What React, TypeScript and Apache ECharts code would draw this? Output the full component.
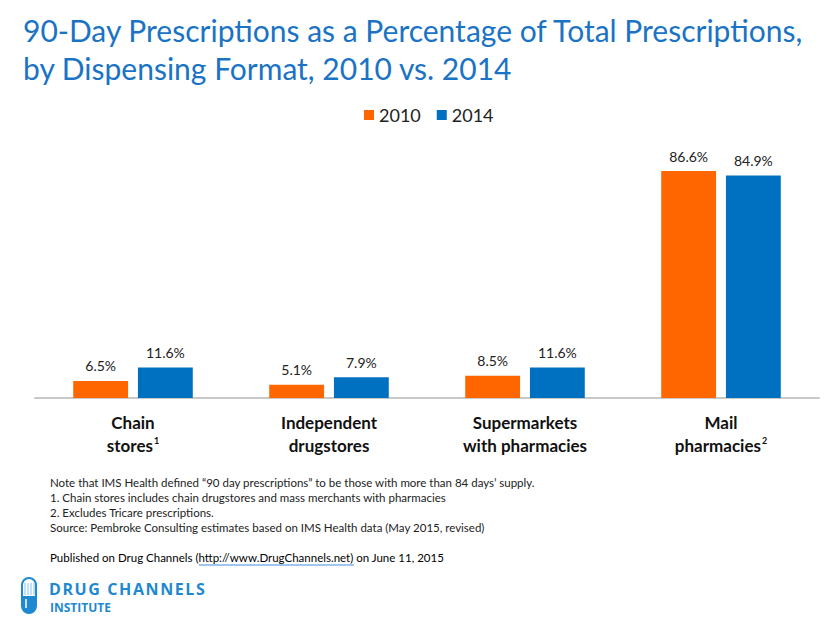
import React, { useEffect, useRef } from "react";
import * as echarts from "echarts";

const categories = ["Chain\nstores{sup|1}", "Independent\ndrugstores", "Supermarkets\nwith pharmacies", "Mail\npharmacies{sup|2}"];
const values2010 = [6.5, 5.1, 8.5, 86.6];
const values2014 = [11.6, 7.9, 11.6, 84.9];
const seriesNames = ["2010", "2014"];
const titleLines = [
  "90-Day Prescriptions as a Percentage of Total Prescriptions,",
  "by Dispensing Format, 2010 vs. 2014",
];
const noteLines = [
  "Note that IMS Health defined \u201c90 day prescriptions\u201d to be those with more than 84 days\u2019 supply.",
  "1. Chain stores includes chain drugstores and mass merchants with pharmacies",
  "2. Excludes Tricare prescriptions.",
  "Source: Pembroke Consulting estimates based on IMS Health data (May 2015, revised)",
];

const FONT = "Lato, 'Open Sans', sans-serif";
const ORANGE = "#FF6600";
const BLUE = "#0070C0";
const LOGO_BLUE = "#1E88D0";

export default function App() {
  const ref = useRef<HTMLDivElement>(null);
  useEffect(() => {
    document.body.style.margin = "0";
    if (!ref.current) return;
    const chart = echarts.init(ref.current, null, { renderer: "svg" });
    const labelCommon = {
      show: true,
      position: "top" as const,
      distance: 8,
      formatter: "{c}%",
      fontFamily: FONT,
      fontSize: 14,
      color: "#222",
    };
    const hs = "\u200A";
    chart.setOption({
      animation: false,
      backgroundColor: "#ffffff",
      title: {
        text: titleLines.join("\n"),
        left: 18,
        top: 6,
        textStyle: {
          fontFamily: FONT,
          fontSize: 30,
          fontWeight: "normal",
          color: "#1A73C4",
          lineHeight: 38,
        },
      },
      legend: {
        top: 101,
        left: 359,
        itemWidth: 10,
        itemHeight: 10,
        itemGap: 16,
        icon: "rect",
        textStyle: { fontFamily: FONT, fontSize: 18, color: "#222" },
        data: seriesNames,
      },
      grid: { left: 35, right: 21, top: 136, bottom: 219 },
      xAxis: {
        type: "category",
        data: categories,
        axisLine: { lineStyle: { color: "#C8C8C8", width: 2 } },
        axisTick: { show: false },
        axisLabel: {
          margin: 13,
          interval: 0,
          fontFamily: FONT,
          fontSize: 17,
          fontWeight: "bold",
          color: "#111",
          lineHeight: 23,
          rich: {
            sup: {
              fontFamily: FONT,
              fontSize: 9,
              color: "#111",
              padding: [0, 0, 10, 1],
            },
          },
        },
      },
      yAxis: { type: "value", min: 0, max: 100, show: false, splitLine: { show: false } },
      series: [
        {
          name: seriesNames[0],
          type: "bar",
          data: values2010,
          barGap: "18%",
          barCategoryGap: "39%",
          itemStyle: { color: ORANGE },
          label: labelCommon,
        },
        {
          name: seriesNames[1],
          type: "bar",
          data: values2014,
          itemStyle: { color: BLUE },
          label: labelCommon,
        },
      ],
      graphic: [
        ...noteLines.map((t, i) => ({
          type: "text",
          left: 50,
          top: 476 + i * 15,
          style: { text: t, fontFamily: FONT, fontSize: 11.5, fill: "#222" },
        })),
        {
          type: "text",
          left: 50,
          top: 551,
          style: {
            text: "{a|Published on Drug Channels (}{l|http://www.DrugChannels.net}{a|) on June 11, 2015}",
            fontFamily: FONT,
            fontSize: 11.5,
            rich: {
              a: { fontFamily: FONT, fontSize: 11.5, color: "#222" },
              l: { fontFamily: FONT, fontSize: 11.5, color: "#3E8EDE" },
            },
          },
        },
        {
          type: "line",
          shape: { x1: 199, y1: 565, x2: 354, y2: 565 },
          style: { stroke: "#3E8EDE", lineWidth: 1 },
        },
        {
          type: "rect",
          shape: { x: 22, y: 578, width: 14, height: 35, r: 7 },
          style: { fill: "#ffffff", stroke: LOGO_BLUE, lineWidth: 2 },
        },
        {
          type: "rect",
          shape: { x: 22, y: 596, width: 14, height: 17, r: [0, 0, 7, 7] },
          style: { fill: LOGO_BLUE },
        },
        ...[25, 28, 31, 34].map((x) => ({
          type: "line",
          shape: { x1: x, y1: 583, x2: x, y2: 595 },
          style: { stroke: "#7FC4EE", lineWidth: 1 },
        })),
        {
          type: "line",
          shape: { x1: 26, y1: 599, x2: 26, y2: 608 },
          style: { stroke: "#ffffff", lineWidth: 1.5 },
        },
        {
          type: "text",
          left: 49,
          top: 579,
          style: {
            text: "DRUG CHANNELS".split("").join(hs),
            fontFamily: "'Open Sans', sans-serif",
            fontSize: 16,
            lineHeight: 20,
            fontWeight: "bold",
            fill: LOGO_BLUE,
          },
        },
        {
          type: "text",
          left: 50,
          top: 600,
          style: {
            text: "INSTITUTE",
            fontFamily: "'Open Sans', sans-serif",
            fontSize: 12,
            lineHeight: 15,
            fontWeight: "bold",
            fill: LOGO_BLUE,
          },
        },
      ],
    });
    return () => chart.dispose();
  }, []);
  return <div ref={ref} style={{ width: 840, height: 617 }} />;
}
